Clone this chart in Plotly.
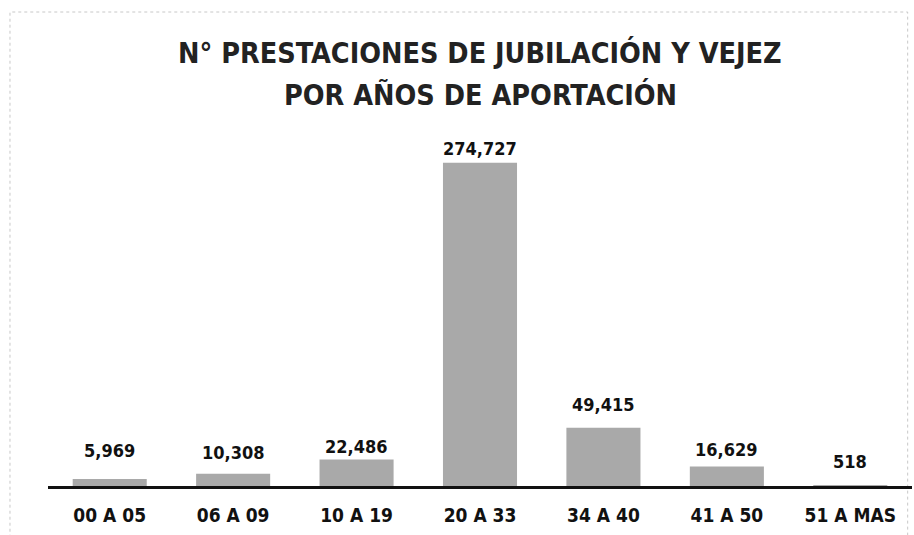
import plotly.graph_objects as go

categories = ["00 A 05", "06 A 09", "10 A 19", "20 A 33", "34 A 40", "41 A 50", "51 A MAS"]
values = [5969, 10308, 22486, 274727, 49415, 16629, 518]
value_labels = ["5,969", "10,308", "22,486", "274,727", "49,415", "16,629", "518"]

title_lines = ["N° PRESTACIONES DE JUBILACIÓN Y VEJEZ", "POR AÑOS DE APORTACIÓN"]

# style: how far (px) each value label sits above its bar top, as in the reference
label_lift_px = [28, 21, 13, 14, 23, 17, 24]

FONT = "DejaVu Sans Condensed"

fig = go.Figure(go.Bar(
    x=categories,
    y=values,
    marker=dict(color="#a9a9a9", line=dict(width=0)),
    width=0.6,
    hoverinfo="x+y",
))

PLOT_TOP, PLOT_BOTTOM = 133, 486
ph = PLOT_BOTTOM - PLOT_TOP

annotations = []
for line, ypx in zip(title_lines, [53, 95]):
    annotations.append(dict(
        text=line, xref="paper", yref="paper",
        x=0.5, y=(PLOT_BOTTOM - ypx) / ph,
        xanchor="center", yanchor="middle", showarrow=False,
        font=dict(family=FONT, size=28.5, color="#222222", weight="bold"),
    ))

for cat, val, lab, lift in zip(categories, values, value_labels, label_lift_px):
    annotations.append(dict(
        text=lab, x=cat, y=val, xref="x", yref="y",
        xanchor="center", yanchor="middle", yshift=lift,
        showarrow=False,
        font=dict(family=FONT, size=18, color="#111111", weight="bold"),
    ))

fig.update_layout(
    width=914, height=535,
    paper_bgcolor="white", plot_bgcolor="white",
    margin=dict(l=48, r=2, t=PLOT_TOP, b=535 - PLOT_BOTTOM, autoexpand=False),
    showlegend=False,
    annotations=annotations,
    xaxis=dict(
        type="category",
        range=[-0.5, 6.5],
        showline=True, linecolor="#111111", linewidth=3,
        showgrid=False, ticks="",
        ticklabelstandoff=10,
        automargin=False,
        tickfont=dict(family=FONT, size=19, color="#111111", weight="bold"),
    ),
    yaxis=dict(
        range=[0, 300000],
        visible=False,
        showgrid=False, zeroline=False,
    ),
    shapes=[
        dict(type="rect", xref="paper", yref="paper",
             x0=-0.044, x1=0.995, y0=-0.3, y1=(PLOT_BOTTOM - 12) / ph,
             line=dict(color="#c8c8c8", width=1, dash="dot"),
             fillcolor="rgba(0,0,0,0)", layer="below"),
    ],
)

fig.write_html("out.html", config={"displayModeBar": False},
               post_script="document.body.style.margin='0';")
